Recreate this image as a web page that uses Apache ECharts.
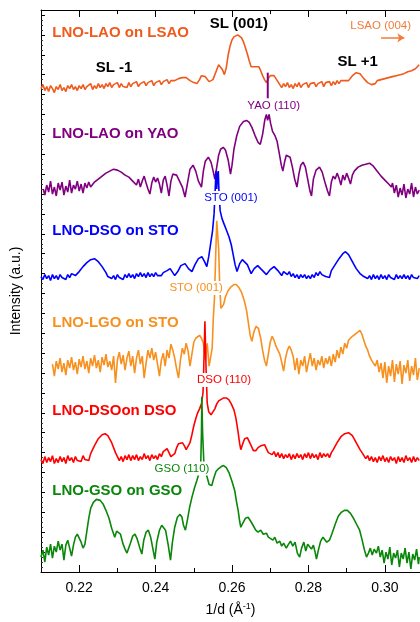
<!DOCTYPE html>
<html>
<head>
<meta charset="utf-8">
<script src="https://cdn.jsdelivr.net/npm/echarts@6/dist/echarts.min.js"></script>
<style>
  html, body { margin: 0; padding: 0; background: #fff; }
  #chart { width: 420px; height: 622px; }
</style>
</head>
<body>
<div id="chart"></div>
<script>
// x axis ticks (1/d, 1/Angstrom)
const xMajorTicks = [0.22, 0.24, 0.26, 0.28, 0.30];
const xMinorTicks = [0.21, 0.23, 0.25, 0.27, 0.29];

// stacked scans, [1/d, intensity a.u. incl. offset]
const lsaoScan = [[0.2100,486],[0.2105,490],[0.2110,484],[0.2115,488],[0.2120,483],[0.2125,489],[0.2130,486],[0.2135,482],[0.2140,488],[0.2145,485],[0.2150,490],[0.2155,484],[0.2160,487],[0.2165,483],[0.2170,489],[0.2175,486],[0.2180,490],[0.2185,485],[0.2190,488],[0.2195,484],[0.2200,489],[0.2205,486],[0.2210,490],[0.2215,485],[0.2220,488],[0.2225,486],[0.2230,491],[0.2235,485],[0.2240,489],[0.2245,486],[0.2250,491],[0.2255,487],[0.2260,490],[0.2265,486],[0.2270,491],[0.2275,488],[0.2280,492],[0.2285,487],[0.2290,490],[0.2295,488],[0.2300,492],[0.2305,487],[0.2310,491],[0.2315,488],[0.2320,490],[0.2325,487],[0.2330,492],[0.2335,488],[0.2340,491],[0.2345,489],[0.2350,493],[0.2355,488],[0.2360,491],[0.2365,489],[0.2370,493],[0.2375,489],[0.2380,492],[0.2385,490],[0.2390,494],[0.2395,489],[0.2400,492],[0.2405,490],[0.2410,494],[0.2415,490],[0.2420,493],[0.2425,491],[0.2430,495],[0.2435,491],[0.2440,494],[0.2445,492],[0.2450,494],[0.2455,493],[0.2460,496],[0.2465,495],[0.2470,497],[0.2475,496],[0.2480,497],[0.2485,495],[0.2490,494],[0.2495,493],[0.2500,492],[0.2508,491],[0.2515,495],[0.2520,499],[0.2525,500],[0.2530,498],[0.2540,493],[0.2545,492],[0.2550,495],[0.2560,505],[0.2565,510],[0.2570,509],[0.2575,505],[0.2580,500],[0.2585,507],[0.2590,520],[0.2595,529],[0.2600,535],[0.2605,538],[0.2610,539.5],[0.2615,540],[0.2620,539],[0.2625,537],[0.2630,533],[0.2635,527],[0.2640,521],[0.2645,514],[0.2650,508],[0.2655,506],[0.2660,508],[0.2665,509],[0.2670,508],[0.2675,504],[0.2680,499],[0.2685,495],[0.2690,492],[0.2695,496],[0.2700,499],[0.2705,500],[0.2710,499],[0.2715,496],[0.2720,494],[0.2725,490],[0.2730,487],[0.2735,491],[0.2740,488],[0.2745,492],[0.2750,487],[0.2755,490],[0.2760,486],[0.2765,491],[0.2770,488],[0.2775,492],[0.2780,487],[0.2785,490],[0.2790,488],[0.2795,492],[0.2800,487],[0.2805,491],[0.2810,489],[0.2815,492],[0.2820,488],[0.2825,491],[0.2830,489],[0.2835,493],[0.2840,488],[0.2845,492],[0.2850,490],[0.2855,493],[0.2860,489],[0.2865,493],[0.2870,490],[0.2875,494],[0.2880,491],[0.2885,494],[0.2890,492],[0.2895,494],[0.2900,492],[0.2905,494],[0.2910,496],[0.2915,499],[0.2920,501],[0.2925,502],[0.2930,502],[0.2935,501],[0.2940,499],[0.2945,496],[0.2950,494],[0.2955,492],[0.2960,491],[0.2965,490],[0.2970,492],[0.2975,491],[0.2980,494],[0.2985,492],[0.2990,495],[0.2995,493],[0.3000,496],[0.3005,494],[0.3010,497],[0.3015,495],[0.3020,498],[0.3025,496],[0.3030,499],[0.3035,497],[0.3040,500],[0.3045,499],[0.3050,501],[0.3055,500],[0.3060,503],[0.3065,502],[0.3070,504],[0.3075,505],[0.3080,506],[0.3085,508],[0.3090,510]];

const yaoScan = [[0.2106,385],[0.2110,379],[0.2115,389],[0.2120,382],[0.2125,393],[0.2130,380],[0.2135,387],[0.2140,378],[0.2145,391],[0.2150,384],[0.2155,392],[0.2160,379],[0.2165,388],[0.2170,382],[0.2175,394],[0.2180,381],[0.2185,389],[0.2190,385],[0.2195,393],[0.2200,383],[0.2205,390],[0.2210,381],[0.2215,391],[0.2220,386],[0.2225,392],[0.2230,387],[0.2240,392],[0.2250,395],[0.2260,398],[0.2270,401],[0.2280,403],[0.2290,405],[0.2300,404],[0.2310,402],[0.2320,399],[0.2330,397],[0.2340,393],[0.2350,389],[0.2355,395],[0.2360,387],[0.2365,393],[0.2370,398],[0.2375,391],[0.2380,385],[0.2385,380],[0.2390,391],[0.2395,397],[0.2400,392],[0.2405,396],[0.2410,390],[0.2415,381],[0.2420,394],[0.2425,398],[0.2430,389],[0.2435,378],[0.2440,393],[0.2445,400],[0.2450,401],[0.2455,399],[0.2460,397],[0.2470,387],[0.2477,377],[0.2483,390],[0.2490,405],[0.2498,409],[0.2505,403],[0.2512,393],[0.2520,387],[0.2525,403],[0.2530,413],[0.2538,417],[0.2545,412],[0.2550,404],[0.2555,395],[0.2560,407],[0.2565,419],[0.2570,425],[0.2577,427],[0.2583,424],[0.2590,414],[0.2596,400],[0.2600,409],[0.2605,425],[0.2612,438],[0.2620,448],[0.2630,453],[0.2638,454],[0.2645,452],[0.2652,447],[0.2660,439],[0.2668,432],[0.2674,430],[0.2680,440],[0.2686,455],[0.2690,460],[0.2693,454],[0.2697,460],[0.2701,451],[0.2706,443],[0.2712,439],[0.2718,433],[0.2724,420],[0.2729,409],[0.2733,403],[0.2738,413],[0.2742,419],[0.2747,420],[0.2752,417],[0.2758,407],[0.2764,395],[0.2770,387],[0.2775,400],[0.2780,409],[0.2786,412],[0.2792,407],[0.2798,395],[0.2804,383],[0.2808,378],[0.2813,395],[0.2820,404],[0.2829,407],[0.2836,402],[0.2843,392],[0.2850,383],[0.2855,378],[0.2860,392],[0.2865,398],[0.2870,395],[0.2875,401],[0.2880,396],[0.2885,389],[0.2890,399],[0.2895,394],[0.2900,401],[0.2905,396],[0.2910,390],[0.2915,399],[0.2920,403],[0.2930,407],[0.2940,409],[0.2950,410],[0.2960,411],[0.2970,408],[0.2980,403],[0.2990,398],[0.3000,394],[0.3010,390],[0.3017,387],[0.3020,391],[0.3025,381],[0.3030,389],[0.3035,377],[0.3040,386],[0.3045,379],[0.3050,390],[0.3055,376],[0.3060,385],[0.3065,380],[0.3070,391],[0.3075,377],[0.3080,387],[0.3085,380],[0.3090,384]];

const dsoStoScan = [[0.2100,297],[0.2105,294],[0.2110,299],[0.2115,295],[0.2120,298],[0.2125,293],[0.2130,299],[0.2135,295],[0.2140,298],[0.2145,294],[0.2150,299],[0.2155,296],[0.2160,298],[0.2165,294],[0.2170,299],[0.2175,296],[0.2180,300],[0.2190,298],[0.2200,302],[0.2210,307],[0.2220,311],[0.2230,314],[0.2240,315],[0.2250,312],[0.2260,307],[0.2270,301],[0.2275,297],[0.2280,299],[0.2285,295],[0.2290,298],[0.2295,294],[0.2300,299],[0.2305,296],[0.2310,298],[0.2315,294],[0.2320,299],[0.2325,296],[0.2330,300],[0.2335,296],[0.2340,299],[0.2345,295],[0.2350,300],[0.2355,297],[0.2360,301],[0.2365,297],[0.2370,300],[0.2375,296],[0.2380,301],[0.2385,297],[0.2390,300],[0.2395,297],[0.2400,301],[0.2405,298],[0.2410,300],[0.2415,298],[0.2420,301],[0.2430,303],[0.2438,305],[0.2450,298],[0.2458,302],[0.2466,308],[0.2477,310],[0.2486,305],[0.2495,302],[0.2503,309],[0.2512,315],[0.2521,317],[0.2528,312],[0.2534,307],[0.2539,317],[0.2544,330],[0.2549,343],[0.2553,360],[0.2556,385],[0.2558,403],[0.2560,385],[0.2562,400],[0.2564,403],[0.2566,380],[0.2569,363],[0.2574,355],[0.2580,349],[0.2586,343],[0.2592,337],[0.2598,329],[0.2603,319],[0.2608,309],[0.2613,302],[0.2620,310],[0.2627,314],[0.2632,315],[0.2640,309],[0.2650,300],[0.2658,305],[0.2667,308],[0.2672,308],[0.2680,303],[0.2690,299],[0.2700,304],[0.2710,307],[0.2720,303],[0.2730,298],[0.2735,302],[0.2740,304],[0.2745,299],[0.2750,302],[0.2755,297],[0.2760,300],[0.2765,296],[0.2770,299],[0.2775,295],[0.2780,299],[0.2785,296],[0.2790,299],[0.2795,295],[0.2800,298],[0.2805,295],[0.2810,299],[0.2815,296],[0.2820,301],[0.2825,298],[0.2830,302],[0.2835,299],[0.2840,300],[0.2845,297],[0.2850,299],[0.2855,296],[0.2860,303],[0.2870,309],[0.2880,315],[0.2890,320],[0.2897,322],[0.2905,319],[0.2915,312],[0.2925,305],[0.2935,300],[0.2945,297],[0.2950,299],[0.2955,295],[0.2960,298],[0.2965,294],[0.2970,299],[0.2975,295],[0.2980,298],[0.2985,294],[0.2990,299],[0.2995,295],[0.3000,298],[0.3005,294],[0.3010,299],[0.3015,296],[0.3020,298],[0.3025,294],[0.3030,299],[0.3035,295],[0.3040,298],[0.3045,295],[0.3050,299],[0.3055,295],[0.3060,298],[0.3065,294],[0.3070,299],[0.3075,296],[0.3080,298],[0.3085,295],[0.3090,298]];

const lgoStoScan = [[0.2130,209],[0.2135,197],[0.2140,212],[0.2145,204],[0.2150,215],[0.2155,201],[0.2160,210],[0.2165,198],[0.2170,213],[0.2175,205],[0.2180,216],[0.2185,203],[0.2190,211],[0.2195,199],[0.2200,214],[0.2205,206],[0.2210,217],[0.2215,204],[0.2220,212],[0.2225,200],[0.2230,215],[0.2235,207],[0.2240,218],[0.2245,205],[0.2250,213],[0.2255,201],[0.2260,216],[0.2265,208],[0.2270,219],[0.2275,206],[0.2280,212],[0.2285,203],[0.2290,217],[0.2295,190],[0.2300,213],[0.2305,221],[0.2310,209],[0.2315,218],[0.2320,203],[0.2325,215],[0.2330,222],[0.2335,207],[0.2340,217],[0.2345,200],[0.2350,215],[0.2355,223],[0.2360,209],[0.2365,217],[0.2370,195],[0.2375,210],[0.2380,223],[0.2385,215],[0.2390,225],[0.2395,213],[0.2400,221],[0.2405,209],[0.2410,197],[0.2415,213],[0.2420,220],[0.2425,207],[0.2430,223],[0.2435,215],[0.2440,229],[0.2445,223],[0.2450,215],[0.2455,204],[0.2460,195],[0.2465,213],[0.2470,225],[0.2475,219],[0.2480,230],[0.2485,222],[0.2490,207],[0.2495,219],[0.2500,231],[0.2505,235],[0.2510,237],[0.2515,238],[0.2520,235],[0.2525,230],[0.2530,213],[0.2535,230],[0.2540,207],[0.2544,205],[0.2548,225],[0.2551,255],[0.2554,275],[0.2557,315],[0.2560,353],[0.2562,355],[0.2565,325],[0.2568,285],[0.2571,265],[0.2574,263],[0.2578,269],[0.2583,277],[0.2590,283],[0.2598,287],[0.2605,289],[0.2611,289],[0.2618,286],[0.2625,281],[0.2632,273],[0.2638,263],[0.2643,250],[0.2648,237],[0.2652,232],[0.2657,241],[0.2663,247],[0.2669,245],[0.2675,235],[0.2680,223],[0.2685,213],[0.2690,207],[0.2695,219],[0.2700,231],[0.2705,237],[0.2710,233],[0.2715,227],[0.2720,229],[0.2725,219],[0.2730,211],[0.2735,202],[0.2740,215],[0.2745,223],[0.2750,227],[0.2755,223],[0.2760,217],[0.2765,203],[0.2770,215],[0.2775,199],[0.2780,213],[0.2785,207],[0.2790,217],[0.2795,201],[0.2800,211],[0.2805,220],[0.2810,207],[0.2815,215],[0.2820,203],[0.2825,213],[0.2830,208],[0.2835,217],[0.2840,205],[0.2845,215],[0.2850,209],[0.2855,217],[0.2860,207],[0.2865,219],[0.2870,211],[0.2875,223],[0.2880,215],[0.2885,226],[0.2890,219],[0.2895,230],[0.2900,225],[0.2905,233],[0.2910,231],[0.2915,237],[0.2920,235],[0.2925,240],[0.2930,241],[0.2935,243],[0.2940,239],[0.2945,233],[0.2950,227],[0.2955,223],[0.2960,217],[0.2965,213],[0.2970,215],[0.2975,207],[0.2980,213],[0.2985,201],[0.2990,210],[0.2995,195],[0.3000,211],[0.3005,190],[0.3010,207],[0.3015,197],[0.3020,213],[0.3025,191],[0.3030,209],[0.3035,199],[0.3040,212],[0.3045,189],[0.3050,208],[0.3055,200],[0.3060,213],[0.3065,192],[0.3070,207],[0.3075,198],[0.3080,215],[0.3085,193],[0.3090,205]];

const dsoDsoScan = [[0.2100,113],[0.2105,109],[0.2110,116],[0.2115,110],[0.2120,115],[0.2125,111],[0.2130,117],[0.2135,109],[0.2140,114],[0.2145,110],[0.2150,116],[0.2155,111],[0.2160,115],[0.2165,109],[0.2170,117],[0.2175,112],[0.2180,115],[0.2185,110],[0.2190,116],[0.2195,112],[0.2200,114],[0.2205,111],[0.2210,117],[0.2215,113],[0.2220,115],[0.2225,112],[0.2230,119],[0.2240,127],[0.2250,134],[0.2260,138],[0.2268,139],[0.2275,137],[0.2285,130],[0.2295,120],[0.2300,116],[0.2305,112],[0.2310,116],[0.2315,111],[0.2320,117],[0.2325,113],[0.2330,118],[0.2335,112],[0.2340,117],[0.2345,113],[0.2350,118],[0.2355,112],[0.2360,116],[0.2365,113],[0.2370,119],[0.2375,114],[0.2380,117],[0.2385,112],[0.2390,118],[0.2395,114],[0.2400,117],[0.2405,113],[0.2410,119],[0.2415,116],[0.2420,121],[0.2425,122],[0.2430,124],[0.2435,120],[0.2440,116],[0.2445,115],[0.2450,119],[0.2455,125],[0.2460,129],[0.2465,130],[0.2470,130],[0.2475,127],[0.2480,123],[0.2485,124],[0.2490,130],[0.2495,138],[0.2500,147],[0.2505,154],[0.2510,160],[0.2515,164],[0.2520,169],[0.2524,180],[0.2526,205],[0.2529,252],[0.2532,205],[0.2535,170],[0.2539,161],[0.2545,158],[0.2550,160],[0.2555,164],[0.2560,169],[0.2565,172],[0.2570,174],[0.2578,175],[0.2585,175],[0.2592,173],[0.2598,169],[0.2605,163],[0.2610,155],[0.2615,143],[0.2620,129],[0.2623,123],[0.2628,129],[0.2633,134],[0.2640,135],[0.2645,133],[0.2650,127],[0.2656,122],[0.2662,122],[0.2668,125],[0.2676,127],[0.2685,128],[0.2690,124],[0.2695,120],[0.2700,122],[0.2705,118],[0.2710,121],[0.2715,116],[0.2720,120],[0.2725,115],[0.2730,119],[0.2735,114],[0.2740,118],[0.2745,115],[0.2750,119],[0.2755,113],[0.2760,118],[0.2765,114],[0.2770,119],[0.2775,115],[0.2780,118],[0.2785,113],[0.2790,119],[0.2795,115],[0.2800,120],[0.2805,114],[0.2810,119],[0.2815,115],[0.2820,118],[0.2825,113],[0.2830,120],[0.2835,115],[0.2840,119],[0.2845,116],[0.2850,119],[0.2855,115],[0.2860,120],[0.2865,123],[0.2875,130],[0.2885,136],[0.2895,139],[0.2905,140],[0.2915,137],[0.2925,130],[0.2935,123],[0.2942,119],[0.2950,114],[0.2955,117],[0.2960,112],[0.2965,116],[0.2970,111],[0.2975,115],[0.2980,110],[0.2985,116],[0.2990,112],[0.2995,117],[0.3000,111],[0.3005,115],[0.3010,110],[0.3015,116],[0.3020,112],[0.3025,115],[0.3030,109],[0.3035,116],[0.3040,111],[0.3045,115],[0.3050,110],[0.3055,117],[0.3060,112],[0.3065,115],[0.3070,110],[0.3075,116],[0.3080,111],[0.3085,115],[0.3090,112]];

const gsoScan = [[0.2100,15],[0.2105,22],[0.2110,10],[0.2115,25],[0.2120,17],[0.2125,28],[0.2130,14],[0.2135,26],[0.2140,20],[0.2145,31],[0.2150,22],[0.2155,28],[0.2160,12],[0.2165,27],[0.2170,32],[0.2175,24],[0.2180,16],[0.2185,27],[0.2190,35],[0.2195,38],[0.2200,36],[0.2205,30],[0.2210,24],[0.2215,28],[0.2220,41],[0.2225,54],[0.2230,64],[0.2237,70],[0.2245,73],[0.2255,72],[0.2263,68],[0.2270,62],[0.2278,54],[0.2285,44],[0.2293,35],[0.2298,41],[0.2302,43],[0.2308,38],[0.2314,29],[0.2320,23],[0.2325,19],[0.2329,17],[0.2334,29],[0.2340,36],[0.2346,38],[0.2352,33],[0.2358,25],[0.2364,18],[0.2369,32],[0.2375,40],[0.2381,42],[0.2387,35],[0.2393,23],[0.2398,13],[0.2403,30],[0.2410,42],[0.2416,47],[0.2420,48],[0.2426,42],[0.2433,27],[0.2439,12],[0.2444,30],[0.2450,45],[0.2457,55],[0.2464,58],[0.2469,55],[0.2473,47],[0.2478,42],[0.2483,52],[0.2489,65],[0.2495,75],[0.2502,85],[0.2508,92],[0.2514,100],[0.2518,107],[0.2520,140],[0.2521,176],[0.2523,140],[0.2526,112],[0.2533,98],[0.2540,88],[0.2547,87],[0.2552,94],[0.2558,101],[0.2565,104],[0.2572,106],[0.2578,107],[0.2585,105],[0.2592,100],[0.2600,91],[0.2607,82],[0.2612,70],[0.2616,62],[0.2620,51],[0.2623,45],[0.2628,49],[0.2635,54],[0.2642,55],[0.2649,51],[0.2655,47],[0.2662,42],[0.2668,40],[0.2675,42],[0.2682,38],[0.2690,39],[0.2695,35],[0.2700,37],[0.2707,32],[0.2712,35],[0.2718,29],[0.2725,31],[0.2730,26],[0.2735,29],[0.2742,24],[0.2748,28],[0.2753,31],[0.2759,26],[0.2765,30],[0.2771,19],[0.2777,15],[0.2782,24],[0.2788,30],[0.2793,21],[0.2798,28],[0.2803,30],[0.2808,23],[0.2813,27],[0.2818,19],[0.2821,13],[0.2826,22],[0.2832,31],[0.2838,35],[0.2842,34],[0.2848,30],[0.2855,32],[0.2862,39],[0.2870,48],[0.2878,56],[0.2886,60],[0.2894,62],[0.2902,62],[0.2910,59],[0.2918,54],[0.2926,48],[0.2934,42],[0.2940,33],[0.2946,23],[0.2952,15],[0.2957,19],[0.2962,24],[0.2967,17],[0.2972,23],[0.2978,19],[0.2983,26],[0.2988,15],[0.2993,22],[0.2998,9],[0.3003,20],[0.3008,13],[0.3013,25],[0.3018,7],[0.3023,19],[0.3028,14],[0.3033,22],[0.3038,5],[0.3043,19],[0.3048,13],[0.3053,24],[0.3058,9],[0.3063,20],[0.3068,3],[0.3073,18],[0.3078,12],[0.3083,23],[0.3088,8],[0.3090,15]];

// sample names, colours, label positions
const sampleNames = ['LNO-LAO on LSAO', 'LNO-LAO on YAO', 'LNO-DSO on STO', 'LNO-LGO on STO', 'LNO-DSOon DSO', 'LNO-GSO on GSO'];
const sampleColors = ['#F05A1C', '#800080', '#0000FF', '#F7901E', '#FF0000', '#0A870A'];
const sampleScans = [lsaoScan, yaoScan, dsoStoScan, lgoStoScan, dsoDsoScan, gsoScan];
const sampleNameX = 0.21295;
const sampleNameY = [542, 440, 343, 250, 162, 82];

// substrate / superlattice peak labels: [x, y, text, colour, bold]
const peakLabels = [
  [0.2618, 551, 'SL (001)', '#000', true],
  [0.2291, 507, 'SL -1', '#000', true],
  [0.2929, 513, 'SL +1', '#000', true],
  [0.2989, 549, 'LSAO (004)', '#F47A3A', false],
  [0.2709, 469, 'YAO (110)', '#800080', false],
  [0.2597, 376, 'STO (001)', '#0000FF', false],
  [0.2506, 285.5, 'STO (001)', '#F7901E', false],
  [0.2579, 193, 'DSO (110)', '#FF0000', false],
  [0.2469, 104, 'GSO (110)', '#0A870A', false]
];
const yaoMarker = [[0.26935, 476], [0.26935, 502]];
const lsaoArrow = [[0.2990, 537], [0.3051, 537]];

const font = 'Arial, "Liberation Sans", sans-serif';
const chart = echarts.init(document.getElementById('chart'));

const xBase = { type: 'value', min: 0.21, max: 0.3092, splitLine: { show: false } };

const annotations = sampleNames.map((n, i) => ({
  value: [sampleNameX, sampleNameY[i]],
  text: n,
  label: { color: sampleColors[i], fontWeight: 'bold', fontSize: 15, align: 'left' }
})).concat(peakLabels.map(p => ({
  value: [p[0], p[1]],
  text: p[2],
  label: p[4]
    ? { color: p[3], fontWeight: 'bold', fontSize: 15 }
    : { color: p[3], fontSize: 11.5, backgroundColor: p[2] === 'LSAO (004)' ? 'transparent' : '#fff', padding: [1, 1] }
})));

chart.setOption({
  animation: false,
  backgroundColor: '#fff',
  grid: { left: 41, right: 0, top: 10, bottom: 47 },
  xAxis: [
    Object.assign({}, xBase, {
      position: 'bottom',
      axisLine: { lineStyle: { color: '#000', width: 1 } },
      axisTick: { inside: true, length: 7, customValues: xMajorTicks, lineStyle: { color: '#000' } },
      axisLabel: { customValues: xMajorTicks, formatter: v => v.toFixed(2), color: '#000', fontSize: 14, margin: 9, fontFamily: font },
      name: '{n|1/d (Å}{s|-1}{n|)}',
      nameLocation: 'middle',
      nameGap: 30,
      nameTextStyle: {
        rich: {
          n: { fontSize: 14, color: '#000', fontFamily: font, lineHeight: 16 },
          s: { fontSize: 9, color: '#000', fontFamily: font, lineHeight: 16, verticalAlign: 'top' }
        }
      }
    }),
    Object.assign({}, xBase, {
      position: 'bottom',
      axisLine: { show: false },
      axisTick: { inside: true, length: 4, customValues: xMinorTicks, lineStyle: { color: '#000' } },
      axisLabel: { show: false }
    }),
    Object.assign({}, xBase, {
      position: 'top',
      axisLine: { lineStyle: { color: '#000', width: 1 } },
      axisTick: { inside: true, length: 7, customValues: xMajorTicks, lineStyle: { color: '#000' } },
      axisLabel: { show: false }
    }),
    Object.assign({}, xBase, {
      position: 'top',
      axisLine: { show: false },
      axisTick: { inside: true, length: 4, customValues: xMinorTicks, lineStyle: { color: '#000' } },
      axisLabel: { show: false }
    })
  ],
  yAxis: {
    type: 'value',
    min: 0,
    max: 565,
    interval: 20,
    splitLine: { show: false },
    axisLine: { show: true, lineStyle: { color: '#000', width: 1 } },
    axisTick: { inside: true, length: 4, lineStyle: { color: '#000' } },
    minorTick: { show: true, splitNumber: 4, length: 2, lineStyle: { color: '#333' } },
    axisLabel: { show: false },
    name: 'Intensity (a.u.)',
    nameLocation: 'middle',
    nameGap: 18,
    nameTextStyle: { fontSize: 14, color: '#000', fontFamily: font }
  },
  series: sampleScans.map((scan, i) => ({
    name: sampleNames[i],
    type: 'line',
    data: scan,
    showSymbol: false,
    symbol: 'none',
    clip: true,
    lineStyle: { color: sampleColors[i], width: 1.6 }
  })).concat([
    {
      // YAO (110) marker
      type: 'line',
      data: yaoMarker,
      symbol: 'none',
      lineStyle: { color: '#800080', width: 2 }
    },
    {
      type: 'scatter',
      z: 5,
      symbolSize: 0,
      itemStyle: { opacity: 1 },
      data: annotations,
      label: {
        show: true,
        position: 'inside',
        opacity: 1,
        fontFamily: font,
        formatter: p => p.data.text
      },
      markLine: {
        silent: true,
        symbol: ['none', 'arrow'],
        symbolSize: 7,
        label: { show: false },
        lineStyle: { color: '#F47A3A', width: 1.5, type: 'solid', opacity: 1 },
        data: [[{ coord: lsaoArrow[0] }, { coord: lsaoArrow[1] }]]
      }
    }
  ])
});
</script>
</body>
</html>
